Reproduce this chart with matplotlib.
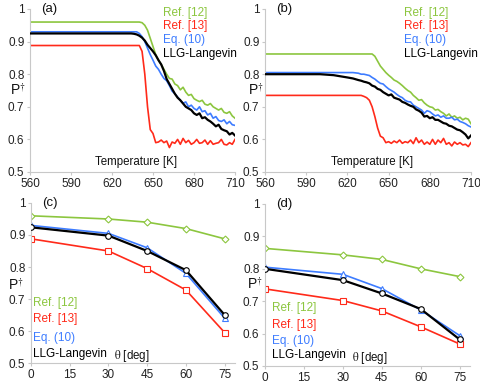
import matplotlib
matplotlib.use("Agg")
import matplotlib.pyplot as plt

plt.rcParams['font.family'] = ['Liberation Sans', 'DejaVu Sans']
plt.rcParams['mathtext.fontset'] = 'stix'

# ---------------- data ----------------
T = [560, 600, 610, 620, 624, 628, 630, 632, 634, 636, 638, 640,
     642, 644, 646, 648, 650, 652, 654, 656, 658, 660,
     662, 664, 666, 668, 670, 672, 674, 676, 678, 680,
     682, 684, 686, 688, 690, 692, 694, 696, 698, 700,
     702, 704, 706, 708, 710]

# panel (a)
a_ref12 = [0.96] * 12 + [0.958, 0.95, 0.935, 0.91, 0.885, 0.86, 0.843, 0.83, 0.815, 0.80,
                         0.787, 0.785, 0.77, 0.765, 0.752, 0.76, 0.745, 0.735, 0.738, 0.725,
                         0.72, 0.716, 0.72, 0.708, 0.705, 0.71, 0.70, 0.695, 0.69, 0.695,
                         0.683, 0.68, 0.685, 0.672, 0.665]
a_ref13 = [0.888] * 12 + [0.87, 0.80, 0.70, 0.63, 0.618, 0.59, 0.592, 0.598, 0.59, 0.595,
                          0.575, 0.592, 0.588, 0.60, 0.585, 0.603, 0.59, 0.597, 0.585, 0.59,
                          0.60, 0.588, 0.59, 0.598, 0.585, 0.596, 0.585, 0.588, 0.59, 0.60,
                          0.585, 0.583, 0.59, 0.585, 0.60]
a_eq10 = [0.93] * 11 + [0.925, 0.915, 0.90, 0.88, 0.86, 0.843, 0.825, 0.815, 0.80, 0.787, 0.78,
                        0.765, 0.748, 0.74, 0.73, 0.72, 0.711, 0.715, 0.70, 0.705, 0.695,
                        0.69, 0.70, 0.685, 0.688, 0.675, 0.68, 0.665, 0.67, 0.658, 0.655,
                        0.66, 0.648, 0.655, 0.645, 0.643]
a_llg = [0.925] * 9 + [0.924, 0.922, 0.918, 0.912, 0.903, 0.89, 0.88, 0.87, 0.858, 0.843, 0.83,
                       0.81, 0.785, 0.77, 0.755, 0.74, 0.728, 0.72, 0.71, 0.70, 0.695,
                       0.69, 0.68, 0.675, 0.68, 0.665, 0.668, 0.66, 0.655, 0.648, 0.64,
                       0.645, 0.632, 0.628, 0.625, 0.615, 0.62, 0.612]

# panel (b)
b_ref12 = [0.862] * 11 + [0.855, 0.84, 0.825, 0.815, 0.805, 0.797, 0.79, 0.782, 0.778, 0.772,
                          0.765, 0.757, 0.75, 0.745, 0.735, 0.728, 0.72, 0.722, 0.712, 0.705,
                          0.70, 0.698, 0.69, 0.692, 0.685, 0.68, 0.672, 0.678, 0.668, 0.672,
                          0.665, 0.668, 0.66, 0.665, 0.662, 0.648]
b_ref13 = [0.735] * 7 + [0.732, 0.728, 0.72, 0.70, 0.67, 0.635, 0.61, 0.605, 0.59, 0.593,
                         0.588, 0.595, 0.59, 0.598, 0.588, 0.593, 0.59, 0.598, 0.587, 0.605,
                         0.59, 0.598, 0.585, 0.592, 0.585, 0.60, 0.585, 0.598, 0.59, 0.603,
                         0.585, 0.59, 0.58, 0.592, 0.585, 0.59, 0.583, 0.585, 0.578, 0.59]
b_eq10 = [0.805, 0.805, 0.805, 0.805, 0.805, 0.803, 0.80, 0.80, 0.798, 0.796, 0.79, 0.785,
          0.778, 0.772, 0.77, 0.762, 0.755, 0.75, 0.745, 0.738, 0.732, 0.728,
          0.72, 0.716, 0.715, 0.705, 0.70, 0.695, 0.69, 0.68, 0.688, 0.685,
          0.678, 0.672, 0.675, 0.668, 0.672, 0.665, 0.665, 0.668, 0.66, 0.662,
          0.655, 0.652, 0.648, 0.642, 0.638]
b_llg = [0.80, 0.80, 0.797, 0.79, 0.787, 0.782, 0.78, 0.777, 0.775, 0.772, 0.765, 0.762,
         0.755, 0.752, 0.745, 0.74, 0.735, 0.738, 0.728, 0.725, 0.722, 0.715,
         0.712, 0.707, 0.703, 0.70, 0.692, 0.688, 0.682, 0.67, 0.672, 0.665,
         0.668, 0.66, 0.66, 0.655, 0.65, 0.648, 0.642, 0.64, 0.635, 0.63,
         0.628, 0.622, 0.615, 0.603, 0.612]

# panels (c), (d)
theta = [0, 30, 45, 60, 75]
c_ref12 = [0.96, 0.95, 0.94, 0.92, 0.888]
c_ref13 = [0.888, 0.85, 0.795, 0.728, 0.595]
c_eq10 = [0.93, 0.905, 0.86, 0.78, 0.64]
c_llg = [0.924, 0.898, 0.85, 0.79, 0.65]

d_ref12 = [0.863, 0.843, 0.829, 0.80, 0.776]
d_ref13 = [0.738, 0.702, 0.67, 0.621, 0.568]
d_eq10 = [0.805, 0.783, 0.739, 0.673, 0.594]
d_llg = [0.80, 0.765, 0.724, 0.676, 0.582]

labels = ['Ref. [12]', 'Ref. [13]', 'Eq. (10)', 'LLG-Langevin']
colors = ['#8cc63f', '#ff2a1a', '#3d7cff', '#000000']
markers = ['D', 's', '^', 'o']
yticks = [0.5, 0.6, 0.7, 0.8, 0.9, 1]
yticklabels = ['0.5', '0.6', '0.7', '0.8', '0.9', '1']
xticks_T = [560, 590, 620, 650, 680, 710]
xticks_th = [0, 15, 30, 45, 60, 75]

# ---------------- figure ----------------
W, H = 480, 385
fig = plt.figure(figsize=(W / 100, H / 100), dpi=100)


def ax_px(l, r, t, b):
    return fig.add_axes([l / W, 1 - b / H, (r - l) / W, (b - t) / H])


def style(ax):
    for s in ['top', 'right']:
        ax.spines[s].set_visible(False)
    for s in ['left', 'bottom']:
        ax.spines[s].set_color('#c8c8c8')
        ax.spines[s].set_linewidth(0.8)
    ax.tick_params(axis='both', colors='#c8c8c8', labelcolor='#222222',
                   labelsize=8.5, length=2.5, width=0.8, pad=1.5)
    ax.set_ylim(0.5, 1)
    ax.set_yticks(yticks)
    ax.set_yticklabels(yticklabels)
    ax.patch.set_alpha(0)


def legend_text(ax, x, ys):
    for lab, col, y in zip(labels, colors, ys):
        fig.text(x / W, 1 - y / H, lab, color=col, fontsize=8.5, va='center', ha='left')


panels_T = [
    ((30, 235, 9, 172), [a_ref12, a_ref13, a_eq10, a_llg], '(a)', 163, [13, 26, 40, 54], 136, 10),
    ((265, 471, 9, 172), [b_ref12, b_ref13, b_eq10, b_llg], '(b)', 404, [13, 26, 40, 54], 372, 248),
]
for (box, series, tag, lx, lys, xlab_x, px) in panels_T:
    ax = ax_px(*box)
    style(ax)
    for ys, col in zip(series, colors):
        lw = 1.6 if col == '#000000' else 1.2
        ax.plot(T, ys, color=col, lw=lw, zorder=3 if col == '#000000' else 2)
    ax.set_xlim(560, 710)
    ax.set_xticks(xticks_T)
    fig.text((box[0] + 11) / W, 1 - 9 / H, tag, fontsize=9.5, va='center', ha='left', color='#111111')
    legend_text(ax, lx, lys)
    fig.text(xlab_x / W, 1 - 162 / H, 'Temperature [K]', fontsize=8.3, ha='center', va='center', color='#111111')
    fig.text(px / W, 1 - 90 / H, r'P$^{\dagger}$', fontsize=10, ha='left', va='center', color='#111111')

panels_th = [
    ((31, 235, 203, 363), [c_ref12, c_ref13, c_eq10, c_llg], '(c)', 33, [303, 319, 338, 354], 132, 356, 8, 285),
    ((265, 470, 204, 366), [d_ref12, d_ref13, d_eq10, d_llg], '(d)', 272, [308, 325, 341, 355], 370, 358, 247, 284),
]
for (box, series, tag, lx, lys, xlab_x, xlab_y, px, py) in panels_th:
    ax = ax_px(*box)
    style(ax)
    for ys, col, mk in zip(series, colors, markers):
        lw = 1.6 if col == '#000000' else 1.2
        ms = 4 if mk != 'D' else 3.5
        ax.plot(theta, ys, color=col, lw=lw, marker=mk, ms=ms, mfc='white',
                mec=col, mew=0.8, zorder=3 if col == '#000000' else 2)
    ax.set_xlim(0, 79)
    ax.set_xticks(xticks_th)
    fig.text((box[0] + 11) / W, 1 - (box[2]) / H, tag, fontsize=9.5, va='center', ha='left', color='#111111')
    legend_text(ax, lx, lys)
    fig.text(xlab_x / W, 1 - xlab_y / H, r'$\mathrm{\theta}$ [deg]', fontsize=8.3, ha='center', va='center', color='#111111')
    fig.text(px / W, 1 - py / H, r'P$^{\dagger}$', fontsize=10, ha='left', va='center', color='#111111')

fig.savefig('out.png', dpi=100)
